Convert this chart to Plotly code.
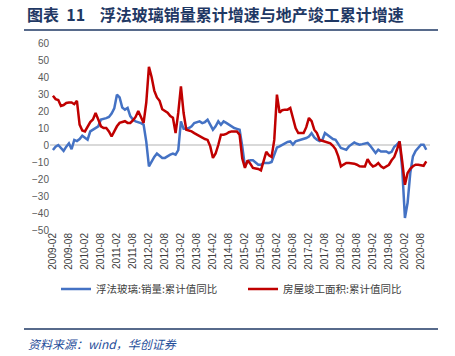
import plotly.graph_objects as go

# monthly categories 2009-02 .. 2020-10
months = []
for y in range(2009, 2021):
    for m in range(1, 13):
        if (y == 2009 and m < 2) or (y == 2020 and m > 10):
            continue
        months.append(f"{y}-{m:02d}")

glass_sales_yoy = [
    -3, -1, 0, -1.5, -3.5, -1, 1, -2.5, 3, 2.3, 3.5,            # 2009 Feb-Dec
    5.5, 4, 3.1, 8, 9, 9.5, 11, 15, 15.3, 15.8, 16.5, 18.5,      # 2010
    21.5, 29.6, 28, 22, 20.8, 21.8, 17, 15, 13.9, 13.5, 12.9, 12,  # 2011
    2, -12.6, -9.6, -7, -5, -6.5, -7.6, -7.6, -6.5, -5.7, -5, -5.7,  # 2012
    -3, 13.9, 9.5, 9.5, 10, 11, 12.9, 13.5, 13.9, 12.9, 13.5, 14.9,  # 2013
    12, 9, 11, 13.9, 11.9, 13.9, 13, 11.9, 11, 10, 9.5, 9,       # 2014
    -0.8, -12.6, -9.6, -9, -9, -10.6, -11.6, -11.6, -10.6, -10.6, -10.6, -10,  # 2015
    -6, -1.5, -0.8, 0, 1.2, 1.8, 2.1, 0.2, 2.1, 2.5, 3.1, 3.5,   # 2016
    4.1, 5, 7, 4.5, 3.1, 2.3, 2.8, 7, 6, 5, 3.5, 3.1,            # 2017
    0.2, -1.8, -2.3, -2.8, -0.8, 0.5, 1.5, 0.7, 0.2, 0.5, 0.8, 1.2,  # 2018
    -0.5, -3, -4.7, -2.8, -3.8, -3.8, -3.8, -4.7, -4, -1, 0.2, 2.1,  # 2019
    -14.5, -42.9, -34, -16.5, -6.7, -3.5, -1.8, 0.2, 0.2, -2.8,  # 2020 Jan-Oct
]

completion_area_yoy = [
    29, 27, 26.5, 23, 23.5, 24.7, 25, 25, 24, 26, 12,            # 2009 Feb-Dec
    8.5, 8, 11, 13.5, 15, 18.8, 15, 11, 10, 10, 8, 5,            # 2010
    8, 11, 13, 13.5, 14, 13, 13, 14.5, 16.5, 20, 16, 13,         # 2011
    25, 46, 40, 32, 28, 26, 21, 20, 19, 17, 16, 7,               # 2012
    19, 34.5, 18.8, 9, 8.5, 8, 7, 6, 5, 4.1, 3.5, 3,             # 2013
    -0.8, -7.6, -5, 0, 6, 6, 6.5, 7.5, 8, 8, 8, 6,               # 2014
    -8, -13.5, -9, -11, -13.5, -13.8, -14.1, -14.9, -10, -4, -6, -7,  # 2015
    3, 29.6, 19, 20.5, 20.8, 20.8, 21.8, 16, 10, 7, 7, 7,        # 2016
    10.5, 15.9, 14, 9, 7, 3, 2.5, 2.1, 1.5, 1, -0.5, -2.5,       # 2017
    -6.7, -12.6, -11.5, -10.6, -10.6, -10.6, -11, -11.6, -12.5, -12.6, -12.6, -8.3,  # 2018
    -11, -12.6, -12, -10.6, -12.5, -13.5, -12.5, -11.6, -9, -7, -2.8, 2.1,  # 2019
    -10, -23.4, -16.5, -14, -12.5, -11.6, -11.6, -11.8, -12.2, -9.6,  # 2020 Jan-Oct
]

tick_labels = [mo for mo in months if mo.endswith("-02") or mo.endswith("-08")]
y_ticks = list(range(-50, 61, 10))

series_names = ["浮法玻璃:销量:累计值同比", "房屋竣工面积:累计值同比"]
title_text = "图表  11    浮法玻璃销量累计增速与地产竣工累计增速"
source_text = "资料来源：wind，华创证券"

CJK = "Noto Sans CJK SC"
W, H = 455, 356
# paper area spans the two rules horizontally and most of the page vertically
L, R, T, B = 24, 17, 25, 20
pw, ph = W - L - R, H - T - B

def px_x(p):
    return (p - L) / pw

def px_y(p):
    return (H - B - p) / ph

# plot area in page pixels
PL, PR, PT, PB = 50, 430, 43, 230

fig = go.Figure()
fig.add_trace(go.Scatter(x=months, y=glass_sales_yoy, mode="lines", name=series_names[0],
                         line=dict(color="#4472C4", width=2.5)))
fig.add_trace(go.Scatter(x=months, y=completion_area_yoy, mode="lines", name=series_names[1],
                         line=dict(color="#C00000", width=2.5)))

fig.update_layout(
    width=W, height=H,
    margin=dict(l=L, r=R, t=T, b=B, autoexpand=False),
    paper_bgcolor="white", plot_bgcolor="white",
    showlegend=True,
    legend=dict(orientation="h", x=px_x(56), y=px_y(289), xanchor="left", yanchor="middle",
                font=dict(family=CJK, size=10.5, color="#404040"),
                entrywidth=142, entrywidthmode="pixels", itemwidth=30,
                bgcolor="rgba(0,0,0,0)"),
    xaxis=dict(domain=[px_x(PL), px_x(PR)], type="category", range=[-1.1, 141.4],
               tickmode="array", tickvals=tick_labels,
               ticktext=tick_labels, tickangle=-90, showgrid=False, zeroline=False,
               showline=False, ticks="", tickfont=dict(family="Liberation Sans", size=10, color="#404040")),
    yaxis=dict(domain=[px_y(PB), px_y(PT)], range=[-50, 60], tickvals=y_ticks, showgrid=False,
               zeroline=True, zerolinecolor="#D9D9D9", zerolinewidth=1.5, showline=False, ticks="",
               tickfont=dict(family="Liberation Sans", size=10, color="#595959")),
    # top rule drawn as a free-floating axis line
    xaxis2=dict(domain=[0, 1], overlaying="x", anchor="free", position=px_y(30),
                showline=True, linecolor="#1F3864", linewidth=1.5, showticklabels=False,
                showgrid=False, zeroline=False, ticks="", range=[0, 1]),
    shapes=[
        dict(type="line", xref="paper", yref="paper", x0=0, x1=1,
             y0=px_y(30), y1=px_y(30), line=dict(color="#1F3864", width=1.5)),
        dict(type="line", xref="paper", yref="paper", x0=0, x1=1,
             y0=px_y(329), y1=px_y(329), line=dict(color="#1F3864", width=1.5)),
    ],
    annotations=[
        dict(text="<b>" + title_text + "</b>", xref="paper", yref="paper", x=px_x(25), y=px_y(14),
             xanchor="left", yanchor="middle", showarrow=False,
             font=dict(family=CJK, size=16, color="#1F3864")),
        dict(text="<i>" + source_text + "</i>", xref="paper", yref="paper", x=px_x(26), y=px_y(343),
             xanchor="left", yanchor="middle", showarrow=False,
             font=dict(family=CJK, size=12, color="#1F4E9A")),
    ],
)

fig.write_html("out.html", config={"displayModeBar": False},
               post_script="document.body.style.margin='0';")
